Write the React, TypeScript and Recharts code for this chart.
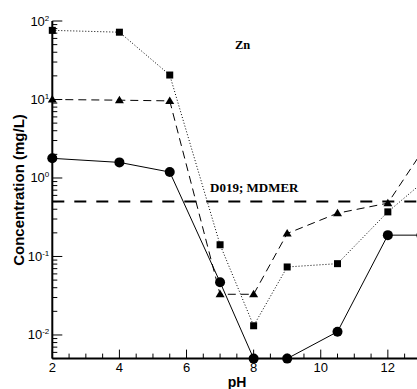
import { LineChart, Line, XAxis, YAxis, ReferenceLine } from "recharts";

// pH sampling points and Zn concentrations (mg/L)
const phValues = [2, 4, 5.5, 7, 8, 9, 10.5, 12, 13];
const squareSeries = [76, 72, 20.5, 0.141, 0.0131, 0.0735, 0.081, 0.37, 0.85];
const triangleSeries = [10, 9.8, 9.6, 0.033, 0.033, 0.196, 0.356, 0.478, 2.1];
const circleSeries = [1.78, 1.58, 1.19, 0.047, 0.005, 0.005, 0.011, 0.187, 0.187];

const xMajorTicks = [2, 4, 6, 8, 10, 12];
const limitValue = 0.5;

const data = phValues.map((ph, i) => ({
  ph,
  square: squareSeries[i],
  triangle: triangleSeries[i],
  circle: circleSeries[i],
}));

// minor ticks every 0.5 pH, and 1..9 per decade on the log axis
const xTicks: number[] = [];
for (let i = 4; i <= 26; i++) xTicks.push(i / 2);
const yTicks: number[] = [];
for (let e = -3; e <= 2; e++) {
  for (let m = 1; m <= 9; m++) {
    const v = parseFloat((m * Math.pow(10, e)).toPrecision(6));
    if (v >= 0.005 && v <= 100) yTicks.push(v);
  }
}

const SANS = "'Liberation Sans', Arial, sans-serif";
const SERIF = "'Liberation Serif', 'Times New Roman', serif";

const YTick = (props: any) => {
  const { x, y, payload } = props;
  const exp = Math.log10(payload.value);
  const major = Math.abs(exp - Math.round(exp)) < 1e-6;
  return (
    <g>
      <line x1={x} y1={y} x2={x + (major ? 10 : 5)} y2={y} stroke="#000" strokeWidth={1} />
      {major && (
        <text x={x - 3} y={y + 4.5} textAnchor="end" fontSize={13} fontFamily={SANS} fill="#000">
          10
          <tspan dy={-5} fontSize={8}>
            {Math.round(exp)}
          </tspan>
        </text>
      )}
    </g>
  );
};

const XTick = (props: any) => {
  const { x, y, payload } = props;
  const major = xMajorTicks.includes(payload.value);
  return (
    <g>
      <line x1={x} y1={y} x2={x} y2={y - (major ? 9 : 5)} stroke="#000" strokeWidth={1} />
      {major && (
        <text x={x} y={y + 13} textAnchor="middle" fontSize={13} fontFamily={SANS} fill="#000">
          {payload.value}
        </text>
      )}
    </g>
  );
};

const SquareDot = (props: any) => {
  const { cx, cy, index } = props;
  if (cx == null || cy == null) return <g key={`s-${index}`} />;
  return <rect key={`s-${index}`} x={cx - 3.5} y={cy - 3.5} width={7} height={7} fill="#000" />;
};

const TriangleDot = (props: any) => {
  const { cx, cy, index } = props;
  if (cx == null || cy == null) return <g key={`t-${index}`} />;
  return (
    <polygon
      key={`t-${index}`}
      points={`${cx},${cy - 4.5} ${cx - 4.5},${cy + 3} ${cx + 4.5},${cy + 3}`}
      fill="#000"
    />
  );
};

const CircleDot = (props: any) => {
  const { cx, cy, index } = props;
  if (cx == null || cy == null) return <g key={`c-${index}`} />;
  return <circle key={`c-${index}`} cx={cx} cy={cy} r={5} fill="#000" />;
};

export default function App() {
  return (
    <div style={{ position: "absolute", left: 0, top: 0, width: 417, height: 389, overflow: "hidden", background: "#fff" }}>
      <LineChart
        width={440}
        height={389}
        data={data}
        margin={{ top: 21, right: 18.6, left: 51.3, bottom: 29.4 }}
      >
        <XAxis
          dataKey="ph"
          type="number"
          domain={[2, 13]}
          ticks={xTicks}
          interval={0}
          height={1}
          tickSize={0}
          tickMargin={0}
          tickLine={false}
          tick={<XTick />}
          axisLine={{ stroke: "#000", strokeWidth: 2 }}
        />
        <YAxis
          type="number"
          scale="log"
          domain={[0.005, 100]}
          ticks={yTicks}
          interval={0}
          width={1}
          tickSize={0}
          tickMargin={0}
          tickLine={false}
          tick={<YTick />}
          axisLine={{ stroke: "#000", strokeWidth: 2 }}
        />
        <ReferenceLine y={limitValue} stroke="#000" strokeWidth={2} strokeDasharray="12 10" />
        <Line
          dataKey="square"
          type="linear"
          stroke="#000"
          strokeWidth={1}
          strokeDasharray="1 2"
          dot={SquareDot}
          activeDot={false}
          isAnimationActive={false}
        />
        <Line
          dataKey="triangle"
          type="linear"
          stroke="#000"
          strokeWidth={1}
          strokeDasharray="8 5"
          dot={TriangleDot}
          activeDot={false}
          isAnimationActive={false}
        />
        <Line
          dataKey="circle"
          type="linear"
          stroke="#000"
          strokeWidth={1}
          dot={CircleDot}
          activeDot={false}
          isAnimationActive={false}
        />
      </LineChart>
      <svg width={417} height={389} style={{ position: "absolute", left: 0, top: 0, pointerEvents: "none" }}>
        <text x={235} y={49} fontSize={12.5} fontWeight="bold" fontFamily={SERIF} fill="#000">
          Zn
        </text>
        <text x={210} y={192} fontSize={13} fontWeight="bold" fontFamily={SERIF} fill="#000">
          D019; MDMER
        </text>
        <text x={237} y={387} textAnchor="middle" fontSize={14} fontWeight="bold" fontFamily={SANS} fill="#000">
          pH
        </text>
        <text
          transform="translate(24,190) rotate(-90)"
          textAnchor="middle"
          fontSize={15}
          fontWeight="bold"
          fontFamily={SANS}
          fill="#000"
        >
          Concentration (mg/L)
        </text>
      </svg>
    </div>
  );
}
